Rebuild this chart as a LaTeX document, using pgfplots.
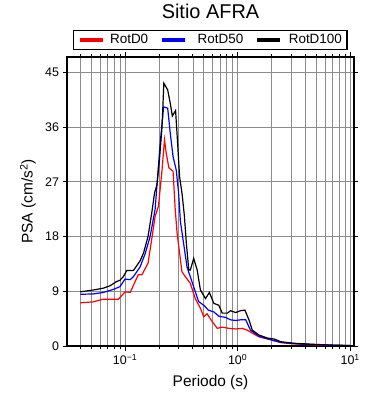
\documentclass[border=0pt]{standalone}
\usepackage{fontspec}
\setmainfont{Liberation Sans}
\usepackage{pgfplots}
\usepackage{pgfplotstable}
\pgfplotsset{compat=1.18}

\pgfplotstableread{
T y
0.040 7.1
0.052 7.25
0.064 7.7
0.0814 7.7
0.0872 7.7
0.100 8.9
0.111 8.8
0.131 11.7
0.141 11.7
0.160 13.6
0.173 17.7
0.185 21.3
0.198 23.0
0.213 28.9
0.224 33.9
0.232 31.7
0.245 29.3
0.267 28.7
0.279 22.4
0.290 18.5
0.320 12.2
0.343 11.4
0.380 10.3
0.420 7.8
0.467 6.2
0.500 4.8
0.535 5.3
0.595 4.0
0.660 2.9
0.730 3.1
0.835 2.9
0.960 2.8
1.10 2.9
1.22 2.6
1.35 2.1
1.55 1.5
1.90 1.1
2.42 0.55
3.17 0.35
4.47 0.2
6.30 0.12
8.90 0.07
10.0 0.05
}\rotdzero

\pgfplotstableread{
T y
0.040 8.5
0.052 8.55
0.064 8.8
0.0787 9.3
0.090 9.75
0.100 11.0
0.111 10.9
0.1186 11.4
0.136 13.0
0.151 15.2
0.167 18.0
0.185 22.5
0.205 33.3
0.220 39.3
0.239 39.1
0.252 35.0
0.267 31.1
0.285 28.9
0.299 25.1
0.310 20.5
0.355 13.0
0.394 10.5
0.450 7.3
0.500 6.7
0.550 5.9
0.615 5.6
0.680 4.9
0.780 4.7
0.866 4.3
0.960 4.2
1.06 4.3
1.18 4.3
1.30 2.6
1.55 1.6
1.90 1.1
2.42 0.6
3.17 0.4
4.47 0.25
6.30 0.15
8.90 0.09
10.0 0.07
}\rotdfifty

\pgfplotstableread{
T y
0.040 8.9
0.052 9.2
0.064 9.5
0.0735 9.9
0.0843 10.6
0.090 10.8
0.0966 11.4
0.1035 12.4
0.1186 12.4
0.136 14.0
0.146 15.3
0.160 18.0
0.173 22.0
0.183 25.2
0.192 26.5
0.202 30.6
0.213 36.0
0.221 43.2
0.239 42.1
0.252 39.9
0.263 37.8
0.281 38.7
0.293 33.3
0.305 27.8
0.321 25.0
0.336 21.5
0.350 17.0
0.368 12.5
0.380 12.5
0.407 14.4
0.437 12.5
0.467 9.2
0.518 7.8
0.561 8.8
0.615 7.0
0.680 6.7
0.730 5.4
0.810 5.4
0.866 5.8
0.960 5.5
1.06 5.8
1.16 5.9
1.26 4.3
1.35 2.6
1.55 1.8
1.84 1.3
2.11 1.15
2.42 0.7
3.17 0.45
4.47 0.3
6.30 0.17
8.90 0.1
10.0 0.08
}\rotdhundred

\begin{document}
\begin{tikzpicture}
\useasboundingbox (-67bp,-54bp) rectangle (323bp,346bp);
\begin{axis}[
  at={(0,0)}, anchor=south west,
  scale only axis, width=287bp, height=289bp,
  xmode=log, xmin=0.0305, xmax=10.8,
  ymin=0, ymax=47.5,
  ytick={0,9,18,27,36,45},
  xtick={0.1,1,10},
  xticklabels={10\textsuperscript{−1},10\textsuperscript{0},10\textsuperscript{1}},
  minor xtick={0.04,0.05,0.06,0.07,0.08,0.09,0.2,0.3,0.4,0.5,0.6,0.7,0.8,0.9,2,3,4,5,6,7,8,9},
  grid=both,
  major grid style={black!45, line width=0.6bp},
  minor grid style={black!45, line width=0.6bp},
  tick align=outside,
  major tick length=4.5bp, minor tick length=3bp,
  tick style={black, line width=0.7bp},
  axis line style={line width=1.5bp},
  /pgf/number format/assume math mode=true,
  tick label style={font=\fontsize{12.5}{14}\selectfont},
  title={Sitio AFRA},
  title style={font=\fontsize{20}{24}\selectfont, at={(axis description cs:0.5,1)}, anchor=base, yshift=33bp},
  xlabel={Periodo (s)},
  xlabel style={font=\fontsize{15.5}{18}\selectfont, at={(axis description cs:0.5,0)}, anchor=base, yshift=-40bp},
  ylabel={PSA (cm/s\textsuperscript{2})},
  ylabel style={font=\fontsize{15.5}{18}\selectfont, at={(axis description cs:-0.136,0.5)}, anchor=center},
  legend columns=3,
  legend image code/.code={\draw[#1, line width=3.5bp] (0bp,0bp) -- (23bp,0bp);},
  legend style={at={(axis description cs:0,1)}, anchor=south west, xshift=6bp, yshift=7bp,
    draw=black, line width=1.2bp, inner xsep=5bp, inner ysep=3bp,
    font=\fontsize{13.5}{15}\selectfont,
    nodes={inner sep=0pt, text height=10bp, text depth=3bp},
    /tikz/every odd column/.append style={column sep=5bp},
    /tikz/every even column/.append style={column sep=12bp}},
]
\addplot[red, line width=1.2bp] table[x=T, y=y] {\rotdzero};
\addlegendentry{RotD0}
\addplot[blue, line width=1.2bp] table[x=T, y=y] {\rotdfifty};
\addlegendentry{\hspace{6bp}RotD50}
\addplot[black, line width=1.2bp] table[x=T, y=y] {\rotdhundred};
\addlegendentry{\hspace{2bp}RotD100\hspace{7bp}}
\end{axis}
\end{tikzpicture}
\end{document}
